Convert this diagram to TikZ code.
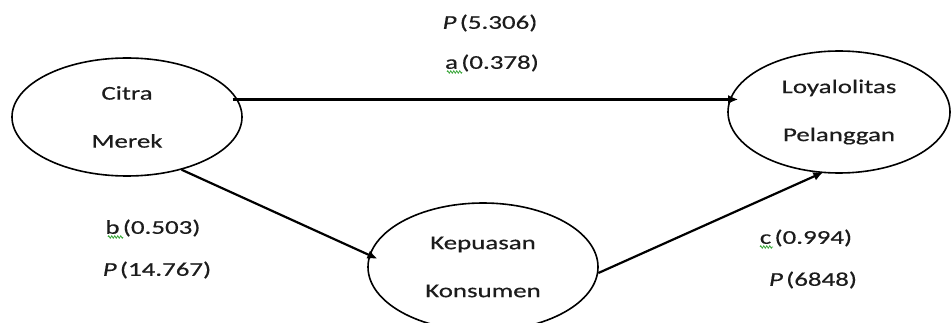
\documentclass[tikz,border=0pt]{standalone}
\usepackage{fontspec}
\setmainfont{Carlito}[FakeStretch=1.38, FakeBold=0.4]
\usetikzlibrary{shapes.geometric,arrows.meta,decorations.pathmorphing}

\definecolor{ink}{HTML}{1C1C1C}
\definecolor{spell}{HTML}{3DA83D}

\tikzset{
  construct/.style={ellipse, draw=black, line width=1.6pt, inner sep=0pt,
    align=center, text=ink, font=\fontsize{19.5}{48}\selectfont},
  path arrow/.style={line width=2.2pt, -{Latex[length=10pt,width=9pt]}},
  coef/.style={text=ink, font=\fontsize{19.5}{24}\selectfont, inner sep=0pt},
  squiggle/.style={spell, line width=0.8pt,
    decorate, decoration={zigzag, segment length=3pt, amplitude=1.2pt}}
}

\begin{document}
\begin{tikzpicture}[x=1pt,y=-1pt]
  \useasboundingbox (0,0) rectangle (952,323);
  \fill[white] (0,0) rectangle (952,323);

  % latent constructs
  \node[construct, minimum width=230pt, minimum height=118pt] (citra) at (127,117) {Citra\\Merek};
  \node[construct, minimum width=222pt, minimum height=122pt] (loyal) at (839,112) {Loyalolitas\\Pelanggan};
  \node[construct, minimum width=230pt, minimum height=128pt] (kepuasan) at (483,267) {Kepuasan\\Konsumen};

  % structural paths
  \draw[path arrow, shorten <=-5pt, shorten >=-11pt] (citra.9) -- (citra.9 -| loyal.west);
  \draw[path arrow, shorten >=-9pt] (citra.-44) -- (kepuasan.174);
  \draw[path arrow, shorten >=-2pt] (kepuasan.-3) -- (loyal.-106);

  % path coefficients
  \node[coef] (pa) at (490,23) {\textit{P}\,(5.306)};
  \node[coef] (ca) at (492,63) {a\,(0.378)};
  \node[coef] (cb) at (153,228) {b\,(0.503)};
  \node[coef] (pb) at (157,270) {\textit{P}\,(14.767)};
  \node[coef] (cc) at (806,238) {c\,(0.994)};
  \node[coef] (pc) at (813,280) {\textit{P}\,(6848)};

  % spelling marks under the single letters
  \draw[squiggle] (447,72) -- (462,72);
  \draw[squiggle] (108,237) -- (123,237);
  \draw[squiggle] (760,247) -- (773,247);
\end{tikzpicture}
\end{document}
